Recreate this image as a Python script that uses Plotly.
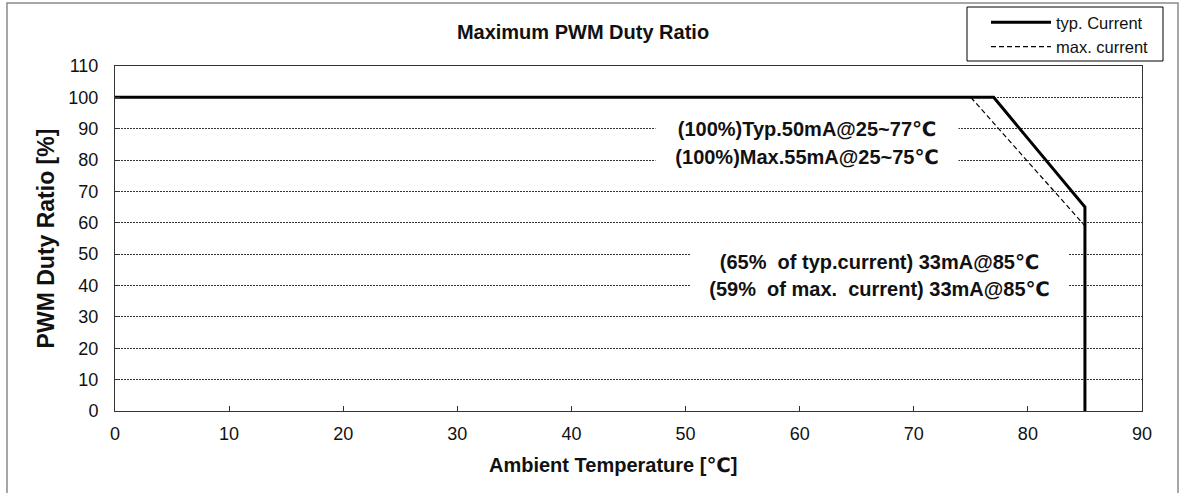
import plotly.graph_objects as go

# Data
typ_temp = [0, 77, 85, 85]
typ_duty = [100, 100, 65, 0]
max_temp = [0, 75, 85, 85]
max_duty = [100, 100, 59, 0]

x_ticks = [0, 10, 20, 30, 40, 50, 60, 70, 80, 90]
y_ticks = [0, 10, 20, 30, 40, 50, 60, 70, 80, 90, 100, 110]

# (x, y, text, box width)
notes = [
    (60.6, 90, "(100%)Typ.50mA@25~77℃", 300),
    (60.6, 81, "(100%)Max.55mA@25~75℃", 300),
    (67.0, 47.5, "(65%  of typ.current) 33mA@85℃", 375),
    (67.0, 39, "(59%  of max.  current) 33mA@85℃", 375),
]

FONT = "Liberation Sans, Arial, DejaVu Sans, sans-serif"

fig = go.Figure()
fig.add_trace(go.Scatter(x=max_temp, y=max_duty, mode="lines", name="max. current",
                         legendgroup="b",
                         line=dict(color="black", width=1.2, dash="5px,3px")))
fig.add_trace(go.Scatter(x=typ_temp, y=typ_duty, mode="lines", name="typ. Current",
                         legendgroup="a",
                         line=dict(color="black", width=3)))

for x, y, t, w in notes:
    fig.add_annotation(x=x, y=y, text="<b>" + t + "</b>", showarrow=False,
                       font=dict(size=20, color="#111", family=FONT),
                       width=w, align="center",
                       bgcolor="white", borderpad=1)

W, H = 1182, 493
ml, mt = 115, 66
mr = W - 1142
mb = H - 411
pw, ph = W - ml - mr, H - mt - mb

def px(xp):
    return (xp - ml) / pw

def py(yp):
    return (H - mb - yp) / ph

# x axis title (placed as text under the axis)
fig.add_annotation(xref="paper", yref="paper", x=px(613), y=py(465),
                   xanchor="center", yanchor="middle", showarrow=False,
                   text="<b>Ambient Temperature [℃]</b>",
                   font=dict(size=20, color="#111", family=FONT))

# outer frame
fig.add_shape(type="rect", xref="paper", yref="paper",
              x0=px(7), x1=px(1178), y0=py(500), y1=py(3),
              line=dict(color="#8a8a8a", width=1.5), layer="below")
# legend frame
fig.add_shape(type="rect", xref="paper", yref="paper",
              x0=px(967), x1=px(1163), y0=py(61), y1=py(7),
              line=dict(color="black", width=1), fillcolor="white", layer="below")

fig.update_layout(
    width=W, height=H,
    margin=dict(l=ml, r=mr, t=mt, b=mb, autoexpand=False),
    paper_bgcolor="white", plot_bgcolor="white",
    font=dict(family=FONT, color="black"),
    title=dict(text="<b>Maximum PWM Duty Ratio</b>", x=583 / W, xanchor="center",
               y=1 - 32 / H, yanchor="middle", font=dict(size=20, color="#111")),
    legend=dict(xref="container", yref="container",
                x=986 / W, y=1 - 5 / H, xanchor="left", yanchor="top",
                bgcolor="rgba(0,0,0,0)", borderwidth=0,
                font=dict(size=16.5, color="#111"), traceorder="reversed",
                tracegroupgap=5, itemwidth=60),
    showlegend=True,
)
fig.update_xaxes(range=[0, 90], tickvals=x_ticks, ticks="inside", ticklen=5,
                 tickcolor="#333", showline=True, linecolor="#333", linewidth=1,
                 mirror=True, showgrid=False, zeroline=False,
                 ticklabelstandoff=6,
                 tickfont=dict(size=18, color="#111"))
fig.update_yaxes(range=[0, 110], tickvals=y_ticks, ticks="inside", ticklen=5,
                 tickcolor="#333", showline=True, linecolor="#333", linewidth=1,
                 mirror=True, showgrid=True, gridcolor="#333", gridwidth=0.7,
                 griddash="2px,1px", zeroline=False,
                 ticklabelstandoff=12,
                 tickfont=dict(size=18, color="#111"),
                 title=dict(text="<b>PWM Duty Ratio [%]</b>", standoff=7,
                            font=dict(size=23, color="#111")))

fig.write_html("out.html", config={"displayModeBar": False},
               post_script="document.body.style.margin='0px';document.body.style.overflow='hidden';")
